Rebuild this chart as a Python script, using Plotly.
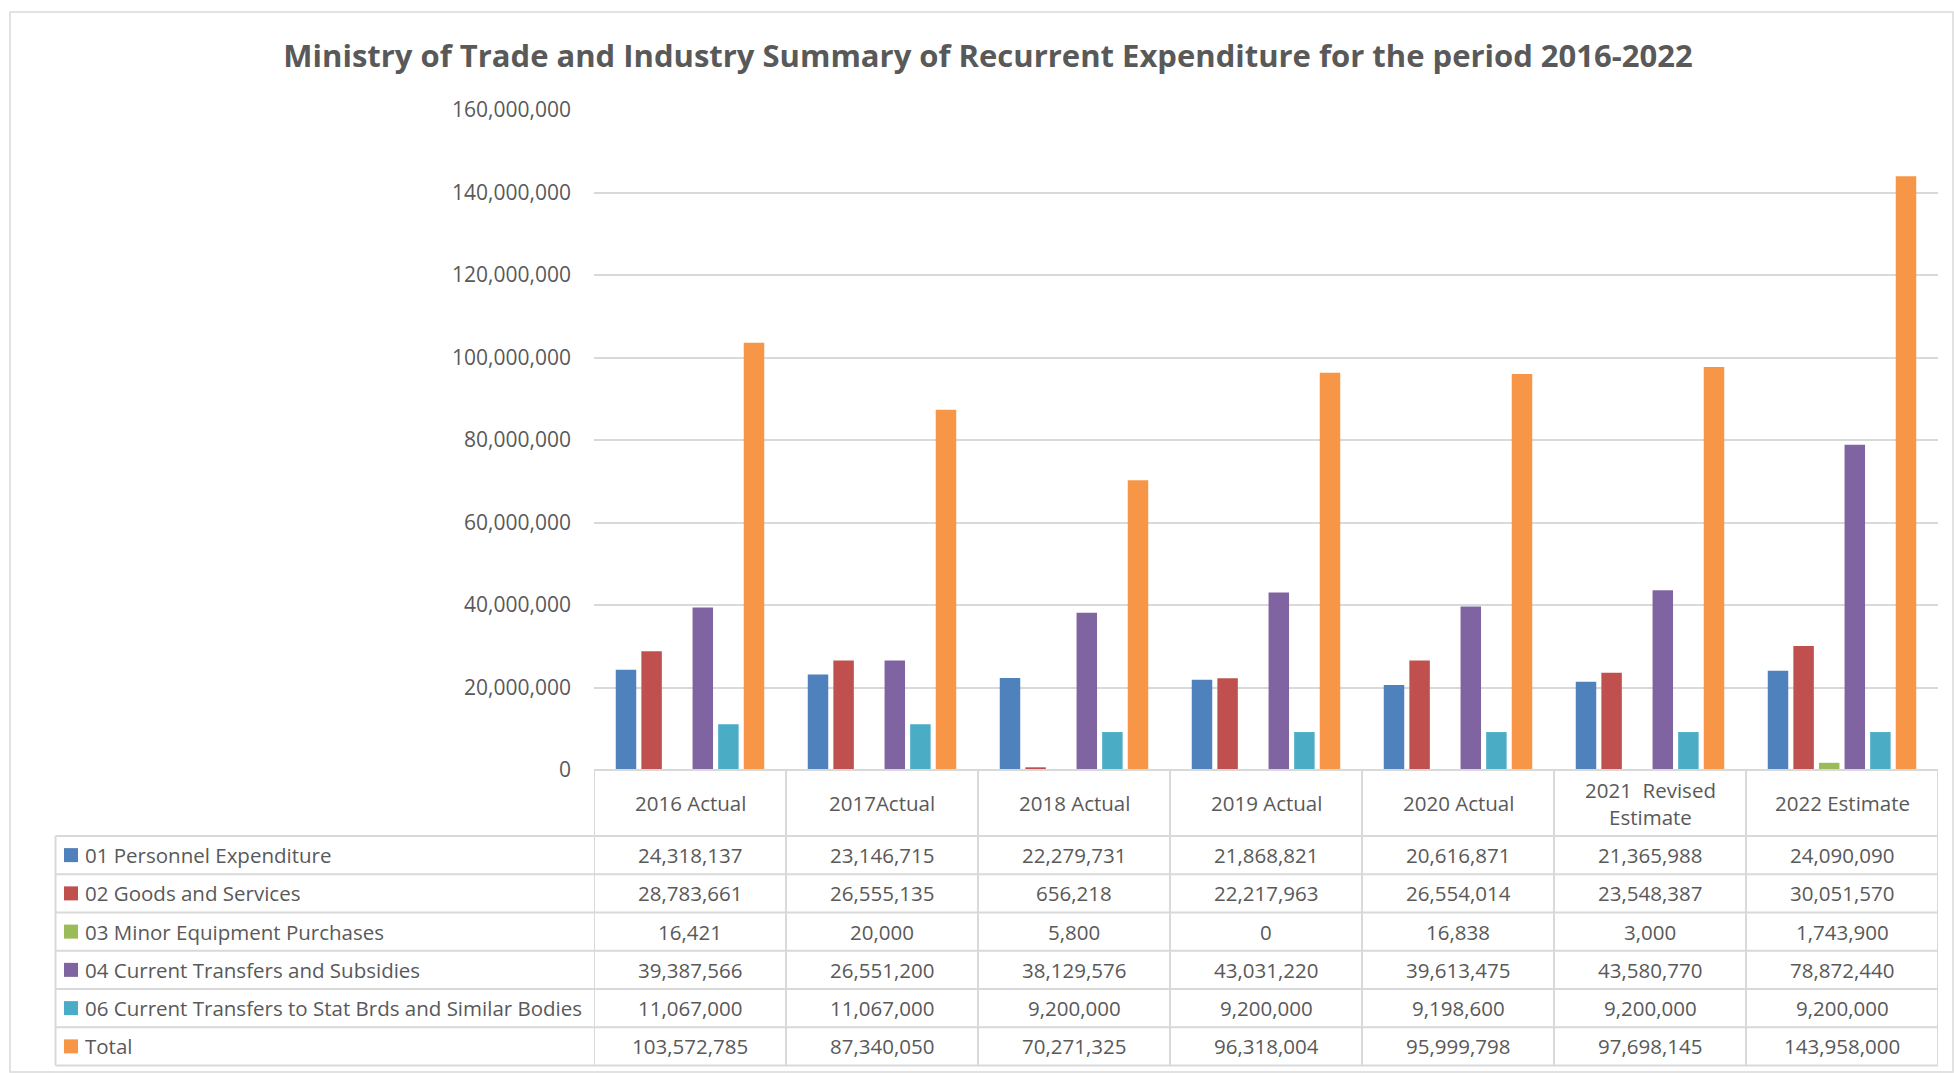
import plotly.graph_objects as go

# ---------------- data ----------------
categories = ["2016 Actual", "2017Actual", "2018 Actual", "2019 Actual",
              "2020 Actual", "2021  Revised<br>Estimate", "2022 Estimate"]

series_names = ["01 Personnel Expenditure", "02 Goods and Services",
                "03 Minor Equipment Purchases", "04 Current Transfers and Subsidies",
                "06 Current Transfers to Stat Brds and Similar Bodies", "Total"]

personnel = [24318137, 23146715, 22279731, 21868821, 20616871, 21365988, 24090090]
goods = [28783661, 26555135, 656218, 22217963, 26554014, 23548387, 30051570]
minor_equipment = [16421, 20000, 5800, 0, 16838, 3000, 1743900]
transfers = [39387566, 26551200, 38129576, 43031220, 39613475, 43580770, 78872440]
stat_bodies = [11067000, 11067000, 9200000, 9200000, 9198600, 9200000, 9200000]
total = [103572785, 87340050, 70271325, 96318004, 95999798, 97698145, 143958000]

series_values = [personnel, goods, minor_equipment, transfers, stat_bodies, total]
colors = ["#4F81BD", "#C0504D", "#9BBB59", "#8064A2", "#4BACC6", "#F79646"]

y_ticks = [0, 20000000, 40000000, 60000000, 80000000, 100000000, 120000000, 140000000, 160000000]

# ---------------- layout geometry (pixels) ----------------
W, H = 1954, 1073
PL, PR, PT, PB = 594, 1938, 110, 770       # plot area
TABLE_LEFT = 55.5
HEADER_BOTTOM = 836
ROW_H = 38.25
GRID = "#D9D9D9"
TXT = "#595959"
FONT = "Open Sans"
TABLE_FS = 20.5


def px_x(px):
    return (px - PL) / (PR - PL)


def px_y(py):
    return (PB - py) / (PB - PT)


fig = go.Figure()
for name, vals, col in zip(series_names, series_values, colors):
    fig.add_trace(go.Bar(x=categories, y=vals, name=name,
                         marker=dict(color=col, line=dict(width=0)),
                         showlegend=False))

shapes = []
annotations = []

# horizontal table lines
n_rows = len(series_names)
row_lines = [HEADER_BOTTOM + k * ROW_H for k in range(n_rows + 1)]
shapes.append(dict(type="line", xref="paper", yref="paper", x0=0, x1=1,
                   y0=px_y(PB), y1=px_y(PB), line=dict(color=GRID, width=2)))
for ry in row_lines:
    shapes.append(dict(type="line", xref="paper", yref="paper",
                       x0=px_x(TABLE_LEFT), x1=1, y0=px_y(ry), y1=px_y(ry),
                       line=dict(color=GRID, width=2)))
# vertical table lines
for i in range(len(categories) + 1):
    shapes.append(dict(type="line", xref="x", yref="paper", x0=i - 0.5, x1=i - 0.5,
                       y0=px_y(PB), y1=px_y(row_lines[-1]),
                       line=dict(color=GRID, width=2)))
shapes.append(dict(type="line", xref="paper", yref="paper",
                   x0=px_x(TABLE_LEFT), x1=px_x(TABLE_LEFT),
                   y0=px_y(HEADER_BOTTOM), y1=px_y(row_lines[-1]),
                   line=dict(color=GRID, width=2)))
# outer chart border
shapes.append(dict(type="rect", xref="paper", yref="paper",
                   x0=px_x(10), x1=px_x(1953), y0=px_y(12), y1=px_y(1072),
                   line=dict(color=GRID, width=1.5), layer="below"))

# header labels
for c in categories:
    annotations.append(dict(x=c, y=px_y((PB + HEADER_BOTTOM) / 2), xref="x", yref="paper",
                            text=c, showarrow=False, xanchor="center", yanchor="middle",
                            font=dict(family=FONT, size=TABLE_FS, color=TXT)))

# table rows
for r, (name, vals, col) in enumerate(zip(series_names, series_values, colors)):
    cy = row_lines[r] + ROW_H / 2
    shapes.append(dict(type="rect", xref="paper", yref="paper",
                       x0=px_x(64), x1=px_x(78), y0=px_y(cy - 7), y1=px_y(cy + 7),
                       fillcolor=col, line=dict(width=0)))
    annotations.append(dict(x=px_x(83), y=px_y(cy), xref="paper", yref="paper",
                            text=name, showarrow=False, xanchor="left", yanchor="middle",
                            font=dict(family=FONT, size=TABLE_FS, color=TXT)))
    for c, v in zip(categories, vals):
        annotations.append(dict(x=c, y=px_y(cy), xref="x", yref="paper",
                                text=f"{v:,}", showarrow=False, xanchor="center",
                                yanchor="middle",
                                font=dict(family=FONT, size=TABLE_FS, color=TXT)))

fig.update_layout(
    width=W, height=H,
    margin=dict(l=PL, r=W - PR, t=PT, b=H - PB, pad=0),
    paper_bgcolor="white", plot_bgcolor="white",
    barmode="group", bargap=0.2, bargroupgap=0.2,
    title=dict(text="<b>Ministry of Trade and Industry Summary of Recurrent Expenditure for the period 2016-2022</b>",
               x=988 / W, xref="container", xanchor="center",
               y=1 - 56 / H, yref="container", yanchor="middle",
               font=dict(family=FONT, size=31, color=TXT)),
    xaxis=dict(showticklabels=False, showgrid=False, showline=False, zeroline=False,
               ticks="", range=[-0.5, len(categories) - 0.5]),
    yaxis=dict(range=[0, 160000000], tickvals=y_ticks, tickformat=",d",
               showgrid=True, gridcolor=GRID, gridwidth=2, zeroline=False,
               showline=False, ticks="", ticklabelstandoff=22,
               tickfont=dict(family=FONT, size=21, color=TXT)),
    shapes=shapes, annotations=annotations,
)

fig.write_html("out.html", config={"displayModeBar": False},
               post_script="document.body.style.margin='0';")
